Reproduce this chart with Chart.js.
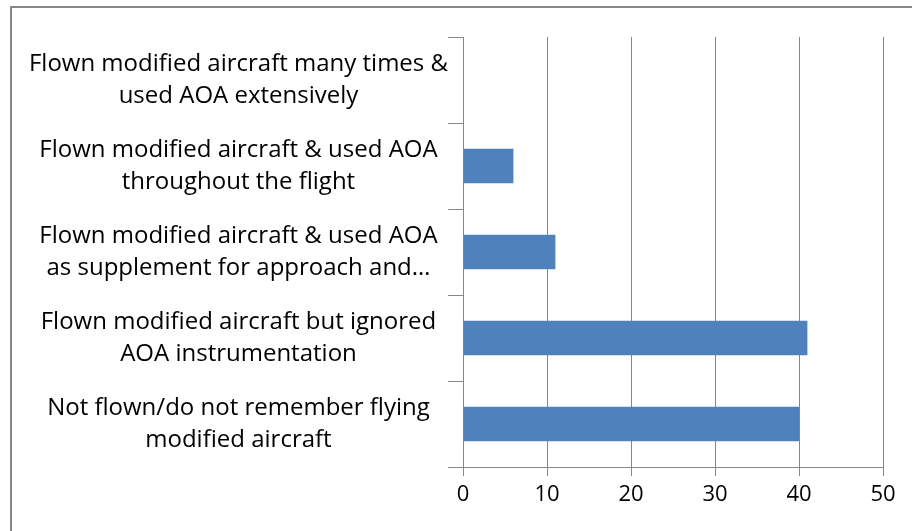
<!DOCTYPE html>
<html>
<head>
<meta charset="utf-8">
<script src="https://cdn.jsdelivr.net/npm/chart.js@4/dist/chart.umd.min.js"></script>
<style>
  html, body { margin: 0; padding: 0; background: #fff; }
  #wrap { position: relative; width: 912px; height: 531px; overflow: hidden; }
  #frame { position: absolute; left: 10px; top: 6px; width: 1000px; height: 1000px;
           border-top: 2px solid #878787; border-left: 2px solid #878787; box-sizing: border-box; }
  canvas { position: absolute; left: 0; top: 0; }
</style>
</head>
<body>
<div id="wrap">
  <div id="frame"></div>
  <canvas id="c" width="912" height="531"></canvas>
</div>
<script>
const categories = [
  ["Flown modified aircraft many times &", "used AOA extensively"],
  ["Flown modified aircraft & used AOA", "throughout the flight"],
  ["Flown modified aircraft & used AOA", "as supplement for approach and…"],
  ["Flown modified aircraft but ignored", "AOA instrumentation"],
  ["Not flown/do not remember flying", "modified aircraft"]
];
const values = [0, 6, 11, 41, 40];
const xTicks = [0, 10, 20, 30, 40, 50];

const FONT = { family: "Open Sans", size: 24, lineHeight: 1.33 };
const GRID = "#878787";

new Chart(document.getElementById('c'), {
  type: 'bar',
  data: {
    labels: categories,
    datasets: [{
      data: values,
      backgroundColor: '#4F81BD',
      borderWidth: 0,
      barPercentage: 0.4,
      categoryPercentage: 1.0
    }]
  },
  options: {
    indexAxis: 'y',
    responsive: false,
    animation: false,
    devicePixelRatio: 1,
    layout: { padding: { left: 12, top: 37, right: 29, bottom: 18 } },
    plugins: { legend: { display: false }, tooltip: { enabled: false } },
    scales: {
      x: {
        min: xTicks[0],
        max: xTicks[xTicks.length - 1],
        afterBuildTicks: (axis) => { axis.ticks = xTicks.map(v => ({ value: v })); },
        afterFit: (axis) => { axis.height = 46; },
        grid: { color: GRID, lineWidth: 1, drawTicks: true, tickLength: 9, tickColor: GRID },
        border: { display: true, color: GRID, width: 1 },
        ticks: { color: '#000', font: { family: "Open Sans", size: 22 }, padding: 6, maxRotation: 0 }
      },
      y: {
        afterFit: (axis) => { axis.width = 451; },
        grid: { display: true, drawOnChartArea: false, drawTicks: true, tickLength: 15, color: GRID, offset: true },
        border: { display: true, color: GRID, width: 1 },
        ticks: { color: '#000', font: FONT, crossAlign: 'center', padding: 0, autoSkip: false }
      }
    }
  }
});
</script>
</body>
</html>
